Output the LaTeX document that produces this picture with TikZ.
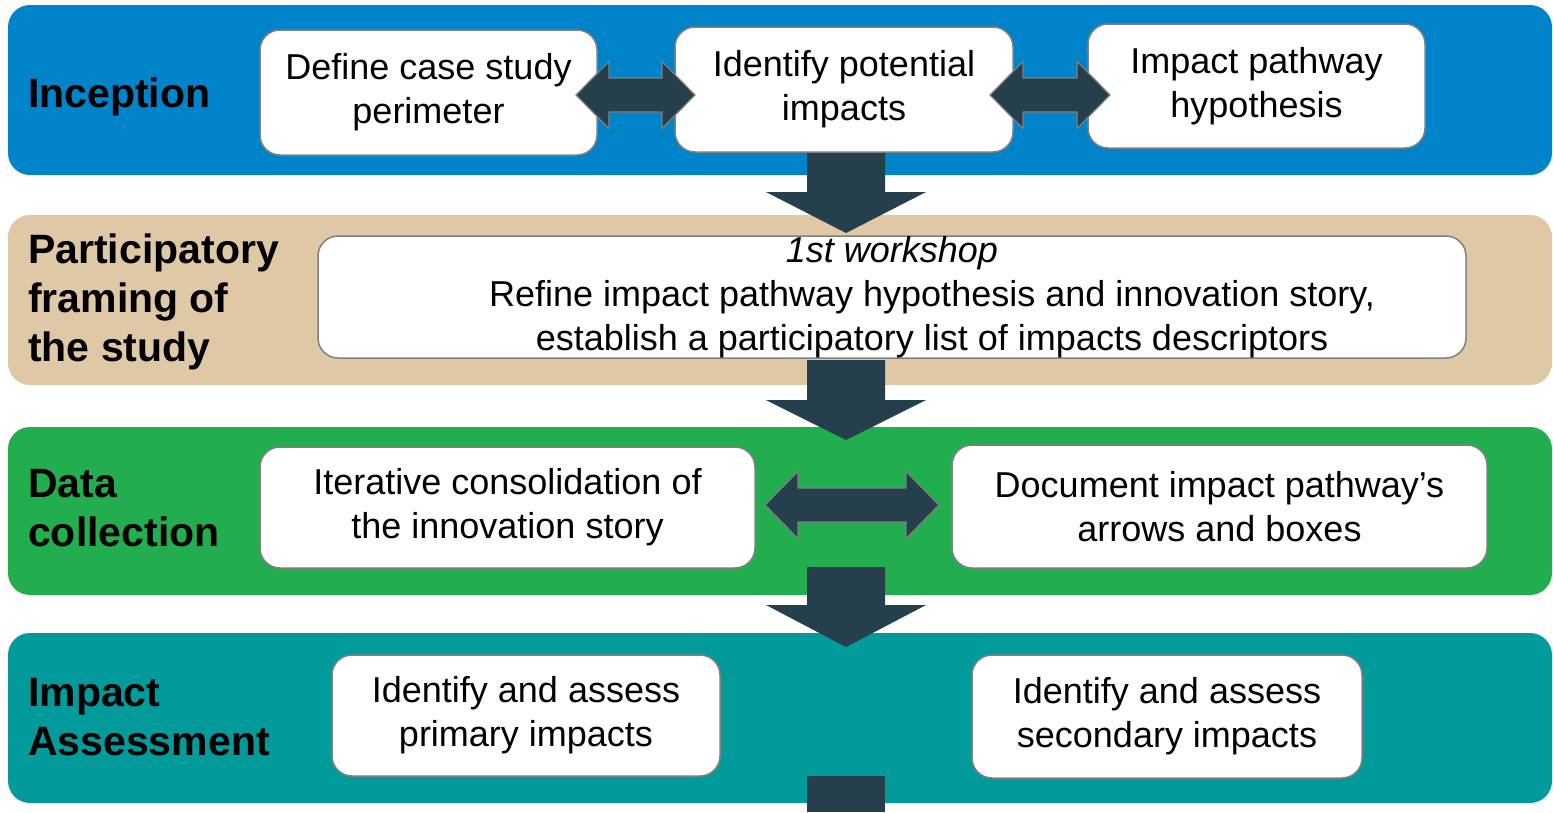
\documentclass[tikz,border=0pt]{standalone}
\usepackage{fontspec}
\setmainfont{Liberation Sans}

\definecolor{incblue}{HTML}{0083C9}
\definecolor{frametan}{HTML}{DFC8A6}
\definecolor{datagreen}{HTML}{22AE4E}
\definecolor{assessteal}{HTML}{029A9A}
\definecolor{arrowdark}{HTML}{263F4C}
\definecolor{boxgray}{HTML}{808080}

\tikzset{
  band/.style={rounded corners=22pt},
  stepbox/.style={draw=boxgray, line width=1.5pt, fill=white, rounded corners=20pt,
    inner sep=0pt, align=center, font=\fontsize{36}{44}\selectfont},
  phase/.style={anchor=west, align=left, inner sep=0pt, font=\fontsize{41}{49}\selectfont\bfseries},
  blockarrow/.style={fill=arrowdark, draw=boxgray, line width=1.2pt, line join=miter},
}

% left tip x, right tip x, centre y
\newcommand{\dblarrow}[3]{%
  \filldraw[blockarrow] (#1,#3) -- (#1+33,#3-33.5) -- (#1+33,#3-17) -- (#2-33,#3-17)
    -- (#2-33,#3-33.5) -- (#2,#3) -- (#2-33,#3+33.5) -- (#2-33,#3+17)
    -- (#1+33,#3+17) -- (#1+33,#3+33.5) -- cycle;}
% shaft top y, head base y, tip y
\newcommand{\dnarrow}[3]{%
  \fill[arrowdark] (807,#1) -- (885,#1) -- (885,#2) -- (926,#2) -- (846,#3)
    -- (766,#2) -- (807,#2) -- cycle;}

\begin{document}
\begin{tikzpicture}[x=1pt, y=-1pt]
\useasboundingbox (0,0) rectangle (1553,812);

% phase bands
\fill[band, incblue] (8,5) rectangle (1552,175);
\fill[band, frametan] (8,215) rectangle (1552,385);
\fill[band, datagreen] (8,427) rectangle (1552,595);
\fill[band, assessteal] (8,633) rectangle (1552,803);

% flow between the phases
\dnarrow{153}{192}{233}
\dnarrow{360}{400}{440}
\dnarrow{567}{605}{647}
\fill[arrowdark] (807,776) rectangle (885,812);

% phase names
\node[phase] (incep) at (28,97) {Inception};
\node[phase] (frame) at (28,302) {Participatory\\framing of\\the study};
\node[phase] (collect) at (28,508) {Data\\collection};
\node[phase] (assess) at (28,717) {Impact\\Assessment};

% steps
\node[stepbox, minimum width=337pt, minimum height=125pt] (perim) at (428.5,92.5) {Define case study\\perimeter};
\node[stepbox, minimum width=338pt, minimum height=125pt] (potent) at (844,89.5) {Identify potential\\impacts};
\node[stepbox, minimum width=337pt, minimum height=124pt] (hypo) at (1256.5,86) {Impact pathway\\hypothesis};

\node[stepbox, minimum width=1148pt, minimum height=122pt] (wshop) at (892,297)
  {\textit{1st workshop}\\\hspace*{80pt}Refine impact pathway hypothesis and innovation story,\\\hspace*{80pt}establish a participatory list of impacts descriptors};

\node[stepbox, minimum width=495pt, minimum height=121pt] (story) at (507.5,507.5) {Iterative consolidation of\\the innovation story};
\node[stepbox, minimum width=535pt, minimum height=123pt] (docum) at (1219.5,506.5) {Document impact pathway’s\\arrows and boxes};

\node[stepbox, minimum width=388pt, minimum height=121pt] (primary) at (526,715.5) {Identify and assess\\primary impacts};
\node[stepbox, minimum width=390pt, minimum height=123pt] (second) at (1167,716.5) {Identify and assess\\secondary impacts};

% back and forth between steps
\dblarrow{576}{695}{95}
\dblarrow{990}{1110}{95}
\dblarrow{765}{939}{505}

\end{tikzpicture}
\end{document}
